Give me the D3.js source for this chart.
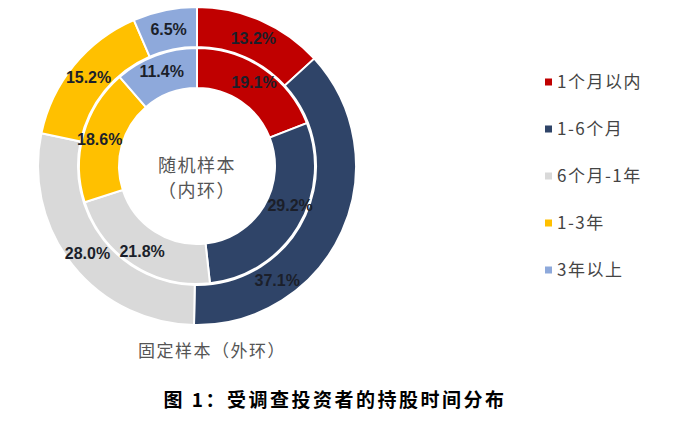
<!DOCTYPE html>
<html>
<head>
<meta charset="utf-8">
<script src="https://cdn.jsdelivr.net/npm/d3@7"></script>
<style>
  body { margin: 0; background: #fff; }
  svg { font-family: "Noto Sans CJK SC", "Liberation Sans", sans-serif; }
</style>
</head>
<body>
<svg width="674" height="422"></svg>
<script>
// categories and values
const categories = ["1个月以内", "1-6个月", "6个月-1年", "1-3年", "3年以上"];
const outerValues = [13.2, 37.1, 28.0, 15.2, 6.5];   // 固定样本（外环）
const innerValues = [19.1, 29.2, 21.8, 18.6, 11.4];  // 随机样本（内环）
const colors = ["#C00000", "#2F4468", "#D9D9D9", "#FFC000", "#8EA9DB"];

const svg = d3.select("svg");
const cx = 197, cy = 166;

const color = d3.scaleOrdinal().domain(categories).range(colors);

// pie layout, clockwise from 12 o'clock
const pie = d3.pie().sort(null).value((d) => d.value);

const toRows = (vals) => vals.map((v, i) => ({ cat: categories[i], value: v }));

// where along each slice the label sits (0 = start, 1 = end); the two
// big navy labels were pushed apart in the original so they don't collide
const labelPos = {
  outer: { "1-6个月": 0.73 },
  inner: { "1-6个月": 0.42 },
};

const g = svg.append("g").attr("transform", `translate(${cx},${cy})`);

// draw one ring
const drawRing = (vals, r0, r1, labelR, ring) => {
  const arc = d3.arc().innerRadius(r0).outerRadius(r1);
  const arcs = pie(toRows(vals));

  const labelXY = (d) => {
    const t = labelPos[ring][d.data.cat] ?? 0.5;
    const a = d.startAngle + t * (d.endAngle - d.startAngle);
    return [labelR * Math.sin(a), -labelR * Math.cos(a)];
  };

  g.append("g")
    .selectAll("path")
    .data(arcs)
    .enter()
    .append("path")
    .attr("d", arc)
    .attr("fill", (d) => color(d.data.cat))
    .attr("stroke", "#fff")
    .attr("stroke-width", 2);

  g.append("g")
    .selectAll("text")
    .data(arcs)
    .enter()
    .append("text")
    .attr("transform", (d) => `translate(${labelXY(d)})`)
    .attr("text-anchor", "middle")
    .attr("dy", "0.36em")
    .attr("font-family", "Liberation Sans, Arial, sans-serif")
    .attr("font-size", 16)
    .attr("font-weight", "bold")
    .attr("fill", "#1b1f2a")
    .text((d) => d.data.value.toFixed(1) + "%");
};

drawRing(outerValues, 119, 159, 140, "outer");
drawRing(innerValues, 78, 118, 101, "inner");

// center text
g.append("text")
  .attr("text-anchor", "middle")
  .attr("y", 6)
  .attr("font-size", 18)
  .attr("letter-spacing", 1.5)
  .attr("fill", "#555")
  .text("随机样本");
g.append("text")
  .attr("text-anchor", "middle")
  .attr("y", 31)
  .attr("font-size", 18)
  .attr("letter-spacing", 1.5)
  .attr("fill", "#555")
  .text("（内环）");

// outer ring caption
svg.append("text")
  .attr("x", 212)
  .attr("y", 357)
  .attr("text-anchor", "middle")
  .attr("font-size", 17)
  .attr("letter-spacing", 1.5)
  .attr("fill", "#555")
  .text("固定样本（外环）");

// legend
const legend = svg.append("g").attr("transform", "translate(545,82)");
const legendRow = legend
  .selectAll("g")
  .data(categories)
  .enter()
  .append("g")
  .attr("transform", (d, i) => `translate(0,${i * 47})`);

legendRow
  .append("rect")
  .attr("x", 0)
  .attr("y", -3.5)
  .attr("width", 7)
  .attr("height", 7)
  .attr("fill", (d) => color(d));

legendRow
  .append("text")
  .attr("x", 12)
  .attr("dy", "0.36em")
  .attr("font-size", 17)
  .attr("letter-spacing", 1.5)
  .attr("fill", "#444")
  .text((d) => d);

// figure title
svg.append("text")
  .attr("x", 335)
  .attr("y", 407)
  .attr("text-anchor", "middle")
  .attr("font-size", 19)
  .attr("font-weight", "bold")
  .attr("letter-spacing", 2.5)
  .attr("fill", "#000")
  .text("图 1：受调查投资者的持股时间分布");
</script>
</body>
</html>
